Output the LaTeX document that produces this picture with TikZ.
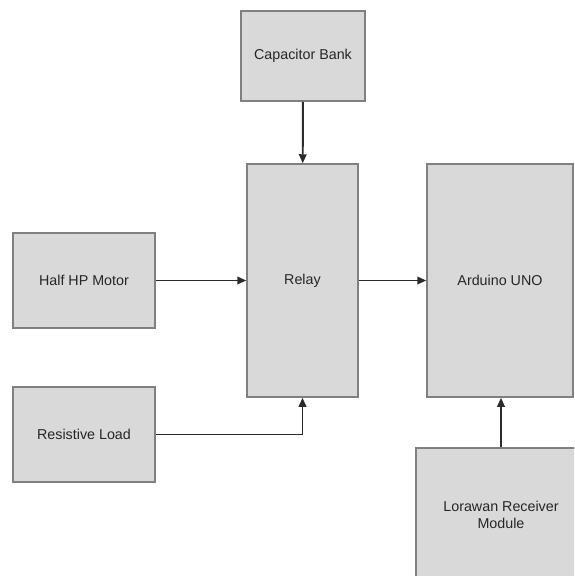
\documentclass[tikz,border=0pt]{standalone}
\usepackage{fontspec}
\setmainfont{Liberation Sans}
\usetikzlibrary{arrows.meta}
\definecolor{boxgray}{HTML}{808080}
\definecolor{boxfill}{HTML}{D9D9D9}
\definecolor{linegray}{HTML}{2B2B2B}
\definecolor{textgray}{HTML}{262626}
\begin{document}
\begin{tikzpicture}[x=1pt,y=-1pt,
  blk/.style={draw=boxgray, fill=boxfill, line width=1.5pt, inner sep=0pt, rectangle,
    font=\fontsize{14.3}{16.5}\selectfont, align=center, text=textgray},
  conn/.style={draw=linegray, line width=1.9pt, -{Triangle[length=9pt,width=7.5pt]}}]
\useasboundingbox (0,0) rectangle (574,576);
\clip (0,0) rectangle (574,576);
\node[blk, minimum width=124pt, minimum height=90pt] (cap) at (303,56) {Capacitor Bank};
\node[blk, minimum width=111pt, minimum height=233pt] (relay) at (302.5,280.5) {Relay};
\node[blk, minimum width=146pt, minimum height=233pt] (ard) at (500,280.5) {Arduino UNO};
\node[blk, minimum width=142pt, minimum height=95pt] (motor) at (84,280.5) {Half HP Motor};
\node[blk, minimum width=142pt, minimum height=95pt] (rl) at (84,434.5) {Resistive Load};
\node[blk, minimum width=170pt, minimum height=134pt] (lora) at (501,515) {Lorawan Receiver\\Module};
\draw[conn] (cap) -- (relay);
\draw[conn] (motor) -- (relay);
\draw[conn] (relay) -- (ard);
\draw[conn] (rl) -| (relay.south);
\draw[conn] (lora.north) -- (lora.north |- ard.south);
\end{tikzpicture}
\end{document}
